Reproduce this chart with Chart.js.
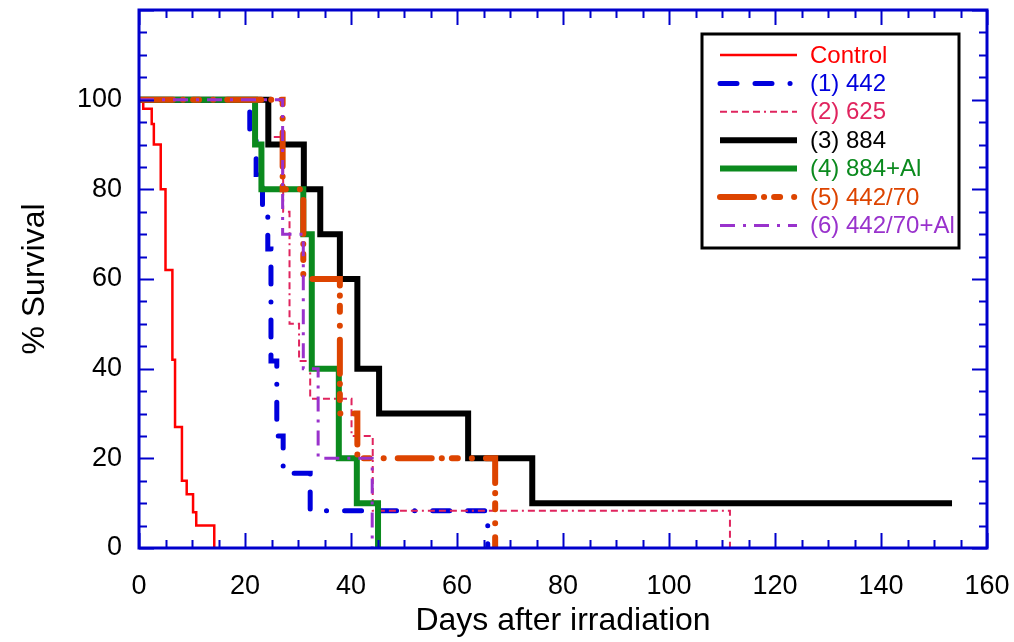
<!DOCTYPE html>
<html lang="en">
<head>
<meta charset="UTF-8" />
<title>% Survival after irradiation</title>
<script src="https://cdn.jsdelivr.net/npm/chart.js"></script>
<style>
  body { margin: 0; background: #fff; }
  #wrap { width: 1014px; height: 642px; }
</style>
</head>
<body>
<div id="wrap"><canvas id="survChart" width="1014" height="642"></canvas></div>
<script>
  // Kaplan-Meier steps: survival (%) after the drop at each day
  const seriesLabels = ["Control", "(1) 442", "(2) 625", "(3) 884", "(4) 884+Al", "(5) 442/70", "(6) 442/70+Al"];

  const controlDays = [0, 0.8, 2.4, 2.8, 4.1, 5.0, 6.3, 6.8, 8.1, 9.0, 10.2, 10.8, 14.2];
  const controlSurv = [100, 98, 94.6, 90, 80, 62, 42, 27, 15, 12, 8, 5, 0];

  const s442Days = [0, 20.9, 22.1, 23.3, 24.3, 24.9, 26.0, 27.2, 32.3, 65.8];
  const s442Surv = [100, 91.7, 83.3, 75, 66.7, 41.7, 25, 16.7, 8.3, 0];

  const s625Days = [0, 24.7, 27.2, 28.4, 30.2, 32.3, 40.1, 44.1, 111.5];
  const s625Surv = [100, 91.7, 75, 50, 41.7, 33.3, 25, 8.3, 0];

  const s884Days = [0, 24.4, 31.1, 34.2, 37.9, 41.2, 45.3, 62.1, 74.2, 153.4];
  const s884Surv = [100, 90, 80, 70, 60, 40, 30, 20, 10, 10];

  const s884AlDays = [0, 21.9, 23.1, 31.0, 32.6, 37.7, 41.1, 45.1];
  const s884AlSurv = [100, 90, 80, 70, 40, 20, 10, 0];

  const s44270Days = [0, 27.1, 31.0, 37.9, 41.2, 67.2];
  const s44270Surv = [100, 80, 60, 30, 20, 0];

  const s44270AlDays = [0, 27.1, 31.0, 33.8, 44.0];
  const s44270AlSurv = [100, 70, 40, 20, 0];

  const xTicks = [0, 20, 40, 60, 80, 100, 120, 140, 160];
  const yTicks = [0, 20, 40, 60, 80, 100];

  const AXIS_BLUE = '#0000cc';
  const FONT = '"Liberation Sans", Arial, sans-serif';

  function toPoints(days, surv) {
    return days.map((d, i) => ({ x: d, y: surv[i] }));
  }

  const styles = [
    { color: '#ff0000', width: 2.5, dash: [], cap: 'butt' },
    { color: '#0000dd', width: 5, dash: [17, 18, 17, 18, 0.1, 18], cap: 'round' },
    { color: '#e0245e', width: 2, dash: [7, 4, 7, 4, 7, 4, 7, 4, 2, 4], cap: 'butt' },
    { color: '#000000', width: 6, dash: [], cap: 'butt' },
    { color: '#0b8a1e', width: 6, dash: [], cap: 'butt' },
    { color: '#dd4400', width: 6, dash: [34, 10, 0.1, 10, 6, 14, 0.1, 14], cap: 'round' },
    { color: '#9932cc', width: 3, dash: [15, 8, 3, 8], cap: 'butt' }
  ];

  const allData = [
    toPoints(controlDays, controlSurv),
    toPoints(s442Days, s442Surv),
    toPoints(s625Days, s625Surv),
    toPoints(s884Days, s884Surv),
    toPoints(s884AlDays, s884AlSurv),
    toPoints(s44270Days, s44270Surv),
    toPoints(s44270AlDays, s44270AlSurv)
  ];

  const datasets = allData.map((pts, i) => ({
    label: seriesLabels[i],
    data: pts,
    borderColor: styles[i].color,
    borderWidth: styles[i].width,
    borderDash: styles[i].dash,
    borderCapStyle: styles[i].cap,
    borderJoinStyle: 'miter',
    stepped: 'before',
    pointRadius: 0,
    fill: false,
    order: seriesLabels.length - i   // later series drawn on top
  }));

  // frame with inward ticks on all four sides
  const framePlugin = {
    id: 'frame',
    afterDraw(chart) {
      const { ctx, chartArea: a, scales } = chart;
      ctx.save();
      ctx.strokeStyle = AXIS_BLUE;
      ctx.lineWidth = 2;
      ctx.beginPath();
      for (let v = 0; v <= 160; v += 5) {
        const x = Math.round(scales.x.getPixelForValue(v)) + 0.5;
        const len = v % 20 === 0 ? 15 : 8;
        ctx.moveTo(x, a.bottom); ctx.lineTo(x, a.bottom - len);
        ctx.moveTo(x, a.top); ctx.lineTo(x, a.top + len);
      }
      for (let v = 0; v <= 120; v += 5) {
        const y = Math.round(scales.y.getPixelForValue(v)) + 0.5;
        const len = v % 20 === 0 ? 15 : 8;
        ctx.moveTo(a.left, y); ctx.lineTo(a.left + len, y);
        ctx.moveTo(a.right, y); ctx.lineTo(a.right - len, y);
      }
      ctx.stroke();
      ctx.lineWidth = 3;
      ctx.strokeRect(a.left, a.top, a.right - a.left, a.bottom - a.top);
      ctx.restore();
    }
  };

  const legendPlugin = {
    id: 'boxLegend',
    afterDraw(chart) {
      const ctx = chart.ctx;
      ctx.save();
      ctx.fillStyle = '#fff';
      ctx.fillRect(702, 34, 257, 214);
      ctx.lineWidth = 3;
      ctx.strokeStyle = '#000';
      ctx.strokeRect(702, 34, 257, 214);
      chart.data.datasets.forEach((ds, i) => {
        const y = 55 + i * 28.4;
        ctx.beginPath();
        ctx.setLineDash(ds.borderDash);
        ctx.lineCap = ds.borderCapStyle;
        ctx.lineWidth = ds.borderWidth;
        ctx.strokeStyle = ds.borderColor;
        ctx.moveTo(720, y);
        ctx.lineTo(797, y);
        ctx.stroke();
        ctx.setLineDash([]);
        ctx.fillStyle = ds.borderColor;
        ctx.font = '24px ' + FONT;
        ctx.textBaseline = 'middle';
        ctx.textAlign = 'left';
        ctx.fillText(ds.label, 810, y + 1);
      });
      ctx.restore();
    }
  };

  function noPad(s) {
    s.paddingTop = 0; s.paddingBottom = 0; s.paddingLeft = 0; s.paddingRight = 0;
  }

  const ctx = document.getElementById('survChart').getContext('2d');
  new Chart(ctx, {
    type: 'line',
    data: { datasets: datasets },
    plugins: [framePlugin, legendPlugin],
    options: {
      responsive: false,
      animation: false,
      layout: { padding: { left: 0, right: 27, top: 10, bottom: 0 } },
      plugins: { legend: { display: false }, tooltip: { enabled: false } },
      scales: {
        x: {
          type: 'linear',
          min: 0, max: 160,
          afterBuildTicks: s => { s.ticks = xTicks.map(v => ({ value: v })); },
          afterFit: s => { s.height = 94; noPad(s); },
          grid: { display: false, drawTicks: false },
          border: { display: false },
          ticks: { color: '#000', font: { family: FONT, size: 27 }, padding: 22, maxRotation: 0 },
          title: { display: true, text: 'Days after irradiation', color: '#000',
                   font: { family: FONT, size: 32 }, padding: { top: 0, bottom: 2 } }
        },
        y: {
          type: 'linear',
          min: 0, max: 120,
          afterBuildTicks: s => { s.ticks = yTicks.map(v => ({ value: v })); },
          afterFit: s => { s.width = 139; noPad(s); },
          grid: { display: false, drawTicks: false },
          border: { display: false },
          ticks: { color: '#000', font: { family: FONT, size: 27 }, padding: 17 },
          title: { display: true, text: '% Survival', color: '#000',
                   font: { family: FONT, size: 32 }, padding: { top: 16, bottom: 0 } }
        }
      }
    }
  });
</script>
</body>
</html>
